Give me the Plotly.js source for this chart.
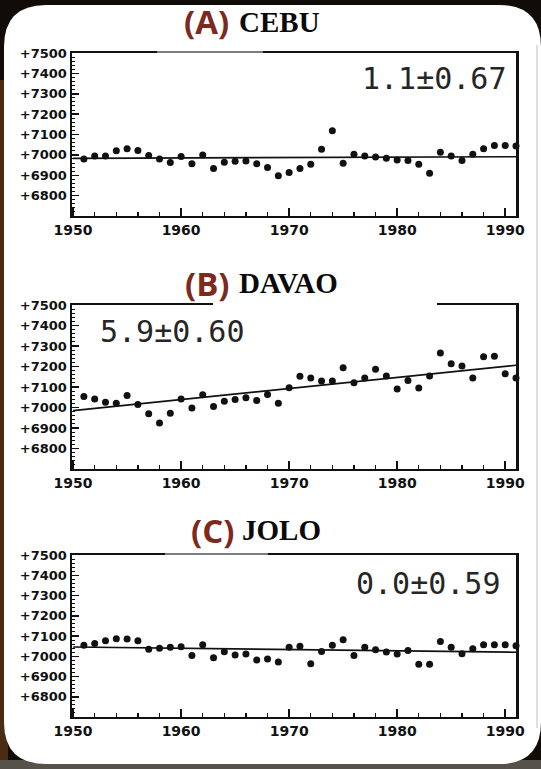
<!DOCTYPE html>
<html>
<head>
<meta charset="utf-8">
<script src="https://cdn.plot.ly/plotly-3.0.1.min.js"></script>
<style>
  html, body { margin: 0; padding: 0; background: #120c08; }
  #chart { width: 541px; height: 769px; }
</style>
</head>
<body>
<div id="chart"></div>
<script>
// ---------------- DATA ----------------
const years = [1951, 1952, 1953, 1954, 1955, 1956, 1957, 1958, 1959, 1960,
               1961, 1962, 1963, 1964, 1965, 1966, 1967, 1968, 1969, 1970,
               1971, 1972, 1973, 1974, 1975, 1976, 1977, 1978, 1979, 1980,
               1981, 1982, 1983, 1984, 1985, 1986, 1987, 1988, 1989, 1990, 1991];

const cebuValues = [6980, 6995, 6995, 7020, 7030, 7021, 6997, 6980, 6962, 6992,
                    6957, 7000, 6933, 6964, 6969, 6970, 6956, 6938, 6898, 6913,
                    6933, 6954, 7028, 7118, 6959, 7003, 6995, 6989, 6984, 6975,
                    6972, 6954, 6910, 7013, 6995, 6972, 7003, 7030, 7046, 7046, 7044];

const davaoValues = [7054, 7041, 7026, 7021, 7059, 7015, 6969, 6925, 6972, 7042,
                     6998, 7062, 7005, 7031, 7039, 7047, 7034, 7064, 7021, 7096,
                     7152, 7144, 7129, 7129, 7194, 7121, 7144, 7186, 7154, 7090,
                     7132, 7095, 7154, 7266, 7214, 7203, 7144, 7247, 7250, 7165, 7144];

const joloValues = [7054, 7063, 7077, 7086, 7085, 7077, 7035, 7039, 7045, 7047,
                    7004, 7057, 6993, 7022, 7006, 7011, 6981, 6986, 6971, 7044,
                    7049, 6963, 7024, 7054, 7082, 7004, 7045, 7032, 7021, 7011,
                    7029, 6961, 6961, 7073, 7044, 7012, 7037, 7057, 7057, 7057, 7052];

// fitted trend lines (end points)
const trendYears = [1950, 1991];
const cebuTrend = [6983, 6991];
const davaoTrend = [6985, 7206];
const joloTrend = [7046, 7020];

const panelLetters = ["(A)", "(B)", "(C)"];
const stationNames = ["CEBU", "DAVAO", "JOLO"];
const rateLabels = ["1.1\u00b10.67", "5.9\u00b10.60", "0.0\u00b10.59"];

const xTickVals = [1950, 1960, 1970, 1980, 1990];
const xTickText = ["1950", "1960", "1970", "1980", "1990"];
const yTickVals = [6800, 6900, 7000, 7100, 7200, 7300, 7400, 7500];
const yTickText = ["+6800", "+6900", "+7000", "+7100", "+7200", "+7300", "+7400", "+7500"];

// ---------------- LAYOUT HELPERS ----------------
const W = 541, H = 769;
const px = v => v / W;
const py = v => 1 - v / H;

const xDomain = [px(72), px(516)];
const yDomains = [[py(216), py(53)], [py(469), py(305)], [py(717), py(555)]];

const INK = '#111111';

function xAxis(i) {
  return {
    domain: xDomain, anchor: 'y' + (i === 0 ? '' : i + 1),
    range: [1949.9, 1991.0], fixedrange: true,
    showline: true, linecolor: INK, linewidth: 2, mirror: true,
    showgrid: false, zeroline: false,
    tickmode: 'array', tickvals: xTickVals, ticktext: xTickText,
    ticks: 'inside', ticklen: 8, tickwidth: 1.5, tickcolor: INK,
    minor: { tickmode: 'linear', tick0: 1950, dtick: 2, ticks: 'inside', ticklen: 4, tickwidth: 1.2, tickcolor: INK, showgrid: false },
    tickfont: { family: 'DejaVu Sans', size: 14, color: INK, weight: 'bold' }
  };
}
function yAxis(i) {
  return {
    domain: yDomains[i], anchor: 'x' + (i === 0 ? '' : i + 1),
    range: [6700, 7500], fixedrange: true,
    showline: true, linecolor: INK, linewidth: 2.5, mirror: true,
    showgrid: false, zeroline: false,
    tickmode: 'array', tickvals: yTickVals, ticktext: yTickText,
    ticks: 'inside', ticklen: 7, tickwidth: 1.5, tickcolor: INK,
    minor: { tickmode: 'linear', tick0: 6700, dtick: 20, ticks: 'inside', ticklen: 3, tickwidth: 1, tickcolor: INK, showgrid: false },
    tickfont: { family: 'DejaVu Sans', size: 13, color: INK, weight: 'bold' }
  };
}

const series = [cebuValues, davaoValues, joloValues];
const trends = [cebuTrend, davaoTrend, joloTrend];

const traces = [];
series.forEach((vals, i) => {
  const xa = 'x' + (i === 0 ? '' : i + 1);
  const ya = 'y' + (i === 0 ? '' : i + 1);
  traces.push({
    type: 'scatter', mode: 'lines', x: trendYears, y: trends[i],
    xaxis: xa, yaxis: ya, line: { color: INK, width: 1.6 }, hoverinfo: 'skip', cliponaxis: true
  });
  traces.push({
    type: 'scatter', mode: 'markers', x: years, y: vals,
    xaxis: xa, yaxis: ya, marker: { color: INK, size: 7 }, cliponaxis: false
  });
});

// title / label positions (pixels)
const titleY = [22, 283, 530];
const letterX = [182, 183, 189];
const nameX = [237, 237, 240];
const rateX = [360, 98, 354];
const rateY = [78, 331, 583];

const annotations = [];
for (let i = 0; i < 3; i++) {
  annotations.push({
    xref: 'paper', yref: 'paper', x: px(letterX[i]), y: py(titleY[i]),
    xanchor: 'left', yanchor: 'middle', showarrow: false, text: panelLetters[i],
    font: { family: 'Open Sans', size: 33, color: '#7b2a1d', weight: 'bold' }
  });
  annotations.push({
    xref: 'paper', yref: 'paper', x: px(nameX[i]), y: py(titleY[i]),
    xanchor: 'left', yanchor: 'middle', showarrow: false, text: stationNames[i],
    font: { family: 'Liberation Serif', size: 29, color: '#0a0a0a', weight: 'bold' }
  });
  annotations.push({
    xref: 'paper', yref: 'paper', x: px(rateX[i]), y: py(rateY[i]),
    xanchor: 'left', yanchor: 'middle', showarrow: false, text: rateLabels[i],
    font: { family: 'DejaVu Sans Mono', size: 30, color: '#262626' }
  });
}

// rounded white card
function cardPath(l, t, r, b, rad) {
  const P = (x, y) => px(x) + ',' + py(y);
  return 'M' + P(l + rad, t) + ' L' + P(r - rad, t) + ' Q' + P(r, t) + ' ' + P(r, t + rad) +
         ' L' + P(r, b - rad) + ' Q' + P(r, b) + ' ' + P(r - rad, b) +
         ' L' + P(l + rad, b) + ' Q' + P(l, b) + ' ' + P(l, b - rad) +
         ' L' + P(l, t + rad) + ' Q' + P(l, t) + ' ' + P(l + rad, t) + ' Z';
}

const shapes = [
  { type: 'rect', xref: 'paper', yref: 'paper', x0: 0, x1: px(8), y0: py(769), y1: py(80), fillcolor: '#4a2c15', line: { width: 0 }, layer: 'below' },
  { type: 'rect', xref: 'paper', yref: 'paper', x0: 0, x1: 1, y0: py(769), y1: py(760), fillcolor: '#57514b', line: { width: 0 }, layer: 'below' },
  { type: 'path', xref: 'paper', yref: 'paper', path: cardPath(4, 5, 541, 764, 42), fillcolor: '#ffffff', line: { width: 0 }, layer: 'below' },
  { type: 'line', xref: 'paper', yref: 'paper', x0: px(537), x1: px(537), y0: py(45), y1: py(728), line: { color: '#d4d4d4', width: 1.5 }, layer: 'below' },
  // title backgrounds partly covering the frame tops
  { type: 'rect', xref: 'paper', yref: 'paper', x0: px(157), x1: px(263), y0: py(56), y1: py(50), fillcolor: 'rgba(255,255,255,0.45)', line: { width: 0 }, layer: 'above' },
  { type: 'rect', xref: 'paper', yref: 'paper', x0: px(213), x1: px(437), y0: py(308), y1: py(301), fillcolor: '#ffffff', line: { width: 0 }, layer: 'above' },
  { type: 'rect', xref: 'paper', yref: 'paper', x0: px(165), x1: px(268), y0: py(558), y1: py(552), fillcolor: 'rgba(255,255,255,0.45)', line: { width: 0 }, layer: 'above' }
];

const layout = {
  width: W, height: H,
  margin: { l: 0, r: 0, t: 0, b: 0, pad: 0 },
  paper_bgcolor: '#120c08', plot_bgcolor: 'rgba(0,0,0,0)',
  showlegend: false,
  xaxis: xAxis(0), xaxis2: xAxis(1), xaxis3: xAxis(2),
  yaxis: yAxis(0), yaxis2: yAxis(1), yaxis3: yAxis(2),
  annotations: annotations,
  shapes: shapes
};

Plotly.newPlot('chart', traces, layout, { staticPlot: true, displayModeBar: false });
</script>
</body>
</html>
